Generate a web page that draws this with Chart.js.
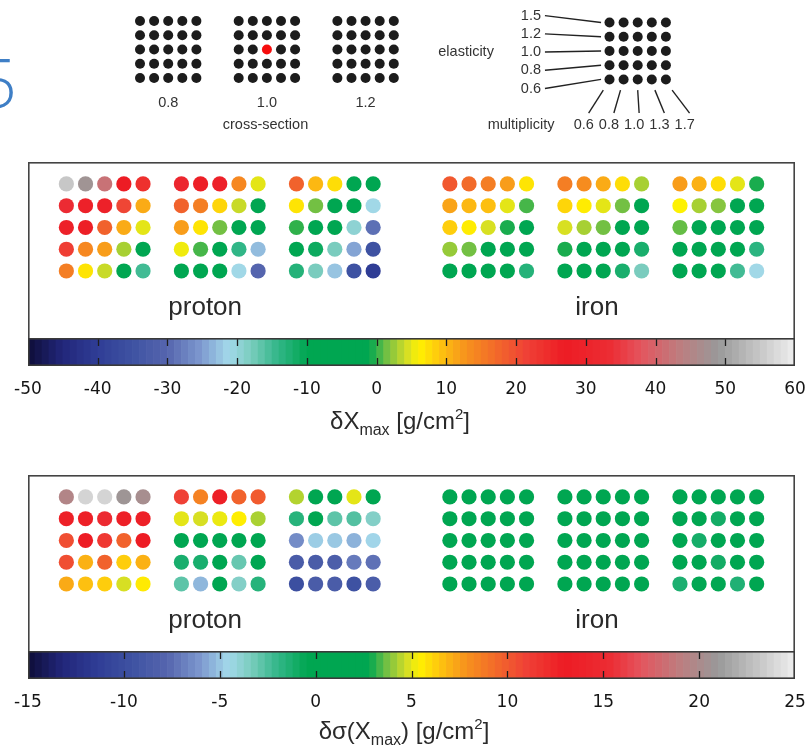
<!DOCTYPE html>
<html>
<head>
<meta charset="utf-8">
<script src="https://cdn.jsdelivr.net/npm/chart.js@4/dist/chart.umd.min.js"></script>
<style>
  html, body { margin: 0; padding: 0; background: #fff; }
  #fig { position: relative; width: 810px; height: 747px; overflow: hidden; background: #fff; }
  #fig canvas { position: absolute; left: 0; }
</style>
</head>
<body>
<div id="fig">
  <canvas id="key"   width="810" height="140" style="top:0px"></canvas>
  <canvas id="dotsA" width="810" height="176" style="top:162px"></canvas>
  <canvas id="barA"  width="810" height="110" style="top:338px"></canvas>
  <canvas id="dotsB" width="810" height="176" style="top:475px"></canvas>
  <canvas id="barB"  width="810" height="96"  style="top:651px"></canvas>
</div>
<script>
// ---------- categories ----------
const crossSections = ['0.8', '1.0', '1.2'];
const elasticity   = ['1.5', '1.2', '1.0', '0.8', '0.6'];   // grid rows, top to bottom
const multiplicity = ['0.6', '0.8', '1.0', '1.3', '1.7'];   // grid columns, left to right
const primaries    = ['proton', 'iron'];

// ---------- colour-bar tick labels ----------
const dXmaxTicks  = [-50, -40, -30, -20, -10, 0, 10, 20, 30, 40, 50, 60];
const dSigmaTicks = [-15, -10, -5, 0, 5, 10, 15, 20, 25];

// ---------- δXmax [g/cm²]: one 5x5 grid per cross-section factor ----------
const dXmaxProton08 = [
  55, 48, 42, 27, 24,
  33, 29, 29, 21, 11,
  29, 28, 18, 11, 5,
  22, 14, 12, 3, -5,
  15, 7, 4, -5, -15];
const dXmaxProton10 = [
  31, 28, 29, 14, 5,
  18, 15, 8, 4, -5,
  12, 7, 1.5, -5, -10,
  5.5, 0.5, -5, -14, -23,
  -4, -5, -5, -21, -30];
const dXmaxProton12 = [
  18, 10, 7.5, -3, -5,
  7, 1.5, -4, -8, -21,
  0, -5, -5, -19.5, -29,
  -5, -11, -18, -24.5, -35,
  -13, -18, -22.5, -35, -40];
const dXmaxIron08 = [
  19, 17, 15, 12, 7,
  11.5, 10, 9.5, 5, 0.5,
  8.5, 6.5, 4.5, -0.5, -5,
  2.5, 1.5, -2, -5, -5,
  -5, -5, -5, -5, -13];
const dXmaxIron10 = [
  15, 13.5, 11, 7.5, 3,
  8, 6.5, 5, 1.5, -5,
  4.5, 3, 1.5, -4, -5,
  -0.5, -3, -4, -5, -12,
  -3, -4, -5, -12, -18];
const dXmaxIron12 = [
  12, 10.5, 7.5, 5, -0.5,
  6, 3, 2, -4, -5,
  1.2, -3, -4, -5, -5,
  -4, -5, -5, -6, -13.5,
  -4, -5, -7, -15, -21];

// ---------- δσ(Xmax) [g/cm²] ----------
const dSigmaProton08 = [
  19.6, 23.8, 23.8, 20.7, 20.2,
  13.5, 13.5, 15, 13.5, 13.5,
  10.5, 13, 11.5, 9.7, 13,
  10.5, 7, 9.7, 6.3, 7,
  7.2, 6.6, 6.3, 4.8, 5.6];
const dSigmaProton10 = [
  11, 8.5, 13.5, 9.7, 10,
  5, 4.8, 5.1, 5.5, 4.3,
  1, 0.5, 1, 1.5, 1,
  -1.2, -1.2, 0.5, -3, 0.5,
  -2.8, -5.3, 0.5, -3.6, -1.6];
const dSigmaProton12 = [
  4.4, 0, 1, 5, 1,
  -1.6, 1, -2.8, -2.6, -3.6,
  -6.4, -4.8, -4.9, -5.4, -4.6,
  -8.6, -8.6, -8.4, -7, -7.3,
  -9.8, -8.6, -8.6, -9.6, -8.5];
const dSigmaIron08 = [
  1.2, 1.0, 1.1, 0.9, 1.0,
  1.1, 0.9, 1.0, 1.2, 1.0,
  0.8, 1.0, 1.1, 1.0, 0.9,
  1.0, 1.1, 0.9, 1.0, 1.2,
  1.0, 0.9, 1.0, 1.1, 1.0];
const dSigmaIron10 = [
  1.0, 1.1, 1.0, 0.9, 1.0,
  0.9, 1.0, 1.2, 1.0, 1.1,
  1.0, 1.1, 0.9, 1.0, 1.0,
  1.1, 1.0, 1.0, 0.9, 1.0,
  1.0, 1.2, 1.0, 1.0, 0.9];
const dSigmaIron12 = [
  1.0, 0.9, 1.0, 1.1, 1.0,
  0.8, 0.6, -1.0, 0.7, 0.9,
  1.0, -1.1, 0.6, 0.8, 1.0,
  0.9, 0.7, -1.0, 0.8, 1.0,
  -1.3, -0.5, -0.5, -1.4, -0.2];

// ---------- colour map (position along the bar -> colour) ----------
const cmapStops = [
  [0.000, '#0e0e38'], [0.045, '#22267a'], [0.090, '#2f3d95'], [0.136, '#3e52a2'],
  [0.182, '#5565ae'], [0.225, '#7d98cf'], [0.262, '#a3d9ea'], [0.290, '#7ccdbf'],
  [0.325, '#34b78a'], [0.364, '#00a651'], [0.445, '#00a651'], [0.470, '#7cc242'],
  [0.495, '#d7df23'], [0.510, '#fff200'], [0.540, '#fdc010'], [0.570, '#f7941d'],
  [0.610, '#f26a2a'], [0.650, '#ef4136'], [0.700, '#ed1c24'], [0.760, '#ec2d34'],
  [0.800, '#e4555e'], [0.850, '#bd7d7f'], [0.900, '#999999'], [1.000, '#eeeeee']
];
function hexRgb(h) { return [1, 3, 5].map(i => parseInt(h.slice(i, i + 2), 16)); }
function cmap(f) {
  f = Math.max(0, Math.min(1, f));
  for (let i = 1; i < cmapStops.length; i++) {
    if (f <= cmapStops[i][0]) {
      const [f0, h0] = cmapStops[i - 1], [f1, h1] = cmapStops[i];
      const t = (f - f0) / (f1 - f0);
      const a = hexRgb(h0), b = hexRgb(h1);
      const c = a.map((v, j) => Math.round(v + (b[j] - v) * t));
      return `rgb(${c[0]},${c[1]},${c[2]})`;
    }
  }
  return cmapStops[cmapStops.length - 1][1];
}

// ---------- shared layout ----------
Chart.defaults.font.family = '"Liberation Sans", Arial, sans-serif';
const PAD = { left: 28, right: 15, top: 0, bottom: 0 };
const groupStart = [0, 20];           // first column slot of each primary block
const gridStride = 6;                 // column slots between grids
const TEXT = '#2a2a2a';

const baseOpts = {
  responsive: false, animation: false, devicePixelRatio: 1, events: [],
  plugins: { legend: { display: false }, tooltip: { enabled: false } }
};

// ---------- key: grid layout of the parameter scan ----------
(function drawKey() {
  const elasGrid = 33.3;
  const pts = [], cols = [];
  crossSections.forEach((cs, k) => {
    elasticity.forEach((e, r) => multiplicity.forEach((m, c) => {
      pts.push({ x: k * 7 + c, y: r });
      cols.push(k === 1 && r === 2 && c === 2 ? '#f60d0d' : '#1c1c1c');
    }));
  });
  elasticity.forEach((e, r) => multiplicity.forEach((m, c) => {
    pts.push({ x: elasGrid + c, y: r + 0.1 });
    cols.push('#1c1c1c');
  }));

  const keyText = {
    id: 'keyText',
    afterDatasetsDraw(chart) {
      const { ctx, scales: { x, y } } = chart;
      const X = v => x.getPixelForValue(v), Y = v => y.getPixelForValue(v);
      ctx.save();
      // stray slide number at the left edge
      ctx.fillStyle = '#3f7fc6';
      ctx.font = '300 68px "Open Sans", sans-serif';
      ctx.textAlign = 'right'; ctx.textBaseline = 'alphabetic';
      ctx.fillText('5', 17, 108);

      ctx.fillStyle = '#333';
      ctx.font = '14.5px "Liberation Sans", Arial, sans-serif';
      ctx.textBaseline = 'middle';
      ctx.textAlign = 'center';
      crossSections.forEach((cs, k) => ctx.fillText(cs, X(k * 7 + 2), Y(5.75)));
      ctx.fillText('cross-section', X(8.9), Y(7.3));

      // elasticity labels with leader lines to the rows
      ctx.strokeStyle = '#222'; ctx.lineWidth = 1.4;
      ctx.textAlign = 'right';
      elasticity.forEach((e, r) => {
        const ly = Y(2.18 + (r - 2) * 1.28);
        ctx.fillText(e, X(28.44), ly);
        ctx.beginPath(); ctx.moveTo(X(28.72), ly); ctx.lineTo(X(elasGrid - 0.6), Y(r + 0.1)); ctx.stroke();
      });
      ctx.fillText('elasticity', X(25.1), Y(2.18));

      // multiplicity labels with leader lines to the columns
      ctx.textAlign = 'center';
      multiplicity.forEach((m, c) => {
        const lx = elasGrid + c + (c - 2) * 0.79 - 0.25;
        ctx.fillText(m, X(lx), Y(7.3));
        ctx.beginPath();
        ctx.moveTo(X(elasGrid + c + (c - 2) * 0.22), Y(4.85));
        ctx.lineTo(X(lx + 0.35), Y(6.46));
        ctx.stroke();
      });
      ctx.textAlign = 'right';
      ctx.fillText('multiplicity', X(29.4), Y(7.3));
      ctx.restore();
    }
  };

  new Chart(document.getElementById('key'), {
    type: 'scatter',
    data: { datasets: [{ data: pts, pointBackgroundColor: cols, pointBorderWidth: 0, pointRadius: 5, pointHoverRadius: 5 }] },
    options: {
      ...baseOpts,
      layout: { padding: 0, autoPadding: false },
      scales: {
        x: { type: 'linear', display: false, min: -9.93, max: 47.52 },
        y: { type: 'linear', display: false, reverse: true, min: -1.474, max: 8.35 }
      }
    },
    plugins: [keyText]
  });
})();

// ---------- dot panels ----------
function dotPanel(id, grids, ticks) {
  const lo = ticks[0], hi = ticks[ticks.length - 1];
  const pts = [], cols = [];
  primaries.forEach((p, pi) => grids[pi].forEach((g, k) => g.forEach((v, i) => {
    const r = Math.floor(i / multiplicity.length), c = i % multiplicity.length;
    pts.push({ x: groupStart[pi] + k * gridStride + c, y: r, v });
    cols.push(cmap((v - lo) / (hi - lo)));
  })));

  const frame = {
    id: 'frame',
    afterDatasetsDraw(chart) {
      const { ctx, chartArea: a, scales: { x, y } } = chart;
      ctx.save();
      ctx.fillStyle = TEXT;
      ctx.font = '26px "Liberation Sans", Arial, sans-serif';
      ctx.textAlign = 'center'; ctx.textBaseline = 'middle';
      ctx.fillText(primaries[0], x.getPixelForValue(7.24), y.getPixelForValue(5.7));
      ctx.fillText(primaries[1], x.getPixelForValue(27.67), y.getPixelForValue(5.7));
      ctx.strokeStyle = '#444'; ctx.lineWidth = 1.6;
      ctx.strokeRect(a.left + 0.8, a.top + 0.8, a.width - 1.6, a.height);
      ctx.restore();
    }
  };

  new Chart(document.getElementById(id), {
    type: 'scatter',
    data: { datasets: [{ data: pts, pointBackgroundColor: cols, pointBorderWidth: 0, pointRadius: 7.6, pointHoverRadius: 7.6 }] },
    options: {
      ...baseOpts,
      layout: { padding: PAD, autoPadding: false },
      scales: {
        x: { type: 'linear', display: false, min: -2, max: 38 },
        y: { type: 'linear', display: false, reverse: true, min: -1.01, max: 7.08 }
      }
    },
    plugins: [frame]
  });
}

// ---------- colour bars ----------
function drawRich(ctx, parts, cx, base) {
  let total = 0;
  parts.forEach(p => { ctx.font = `${p.size}px "Liberation Sans", Arial, sans-serif`; p.w = ctx.measureText(p.t).width; total += p.w; });
  let xpos = cx - total / 2;
  ctx.textAlign = 'left'; ctx.textBaseline = 'alphabetic';
  parts.forEach(p => {
    ctx.font = `${p.size}px "Liberation Sans", Arial, sans-serif`;
    ctx.fillText(p.t, xpos, base + (p.dy || 0));
    xpos += p.w;
  });
}

function colourBar(id, ticks, titleParts, titleX, titleBase) {
  const lo = ticks[0], hi = ticks[ticks.length - 1];
  const nBins = 110, w = (hi - lo) / nBins;
  const bins = Array.from({ length: nBins }, (_, i) => ({ x: lo + (i + 0.5) * w, y: [0, 1] }));
  const cols = bins.map(b => cmap((b.x - lo) / (hi - lo)));
  const canvas = document.getElementById(id);
  const axisH = canvas.height - 28;

  const barDeco = {
    id: 'barDeco',
    afterDatasetsDraw(chart) {
      const { ctx, chartArea: a, scales: { x } } = chart;
      ctx.save();
      ctx.strokeStyle = '#1e1e1e'; ctx.lineWidth = 1.3;
      ticks.slice(1, -1).forEach(v => {
        const px = Math.round(x.getPixelForValue(v)) + 0.5;
        ctx.beginPath();
        ctx.moveTo(px, a.top); ctx.lineTo(px, a.top + 8);
        ctx.moveTo(px, a.bottom - 8); ctx.lineTo(px, a.bottom);
        ctx.stroke();
      });
      ctx.strokeStyle = '#3a3a3a'; ctx.lineWidth = 1.6;
      ctx.strokeRect(a.left + 0.8, a.top + 0.8, a.width - 1.6, a.height - 1.6);
      ctx.fillStyle = TEXT;
      drawRich(ctx, titleParts, titleX, titleBase);
      ctx.restore();
    }
  };

  new Chart(canvas, {
    type: 'bar',
    data: { datasets: [{ data: bins, backgroundColor: cols, borderWidth: 0, barPercentage: 1, categoryPercentage: 1 }] },
    options: {
      ...baseOpts,
      layout: { padding: PAD, autoPadding: false },
      scales: {
        x: {
          type: 'linear', min: lo, max: hi, offset: false,
          grid: { display: false, drawTicks: false },
          border: { display: false },
          afterBuildTicks: s => { s.ticks = ticks.map(v => ({ value: v })); },
          afterFit: s => { s.height = axisH; s.paddingLeft = 0; s.paddingRight = 0; },
          ticks: { autoSkip: false, maxRotation: 0, padding: 13, color: '#151515',
                   font: { family: '"DejaVu Sans", sans-serif', size: 17 } }
        },
        y: { type: 'linear', display: false, min: 0, max: 1 }
      }
    },
    plugins: [barDeco]
  });
}

dotPanel('dotsA',
  [[dXmaxProton08, dXmaxProton10, dXmaxProton12], [dXmaxIron08, dXmaxIron10, dXmaxIron12]],
  dXmaxTicks);
colourBar('barA', dXmaxTicks,
  [{ t: 'δX', size: 24 }, { t: 'max', size: 16, dy: 6 }, { t: ' [g/cm', size: 24 }, { t: '2', size: 15, dy: -10 }, { t: ']', size: 24 }],
  400, 91);

dotPanel('dotsB',
  [[dSigmaProton08, dSigmaProton10, dSigmaProton12], [dSigmaIron08, dSigmaIron10, dSigmaIron12]],
  dSigmaTicks);
colourBar('barB', dSigmaTicks,
  [{ t: 'δσ(X', size: 24 }, { t: 'max', size: 16, dy: 6 }, { t: ') [g/cm', size: 24 }, { t: '2', size: 15, dy: -10 }, { t: ']', size: 24 }],
  404, 88);
</script>
</body>
</html>
